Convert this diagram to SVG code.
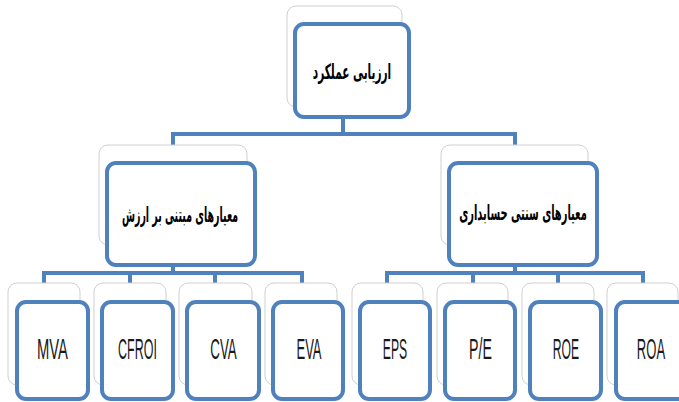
<svg xmlns="http://www.w3.org/2000/svg" width="679" height="402" viewBox="0 0 679 402">
<style>
.bg{fill:#fff;stroke:#cfcfcf;stroke-width:1}
.fr{fill:#fff;stroke:#4f81bd;stroke-width:4}
.ln{fill:none;stroke:#4f81bd;stroke-width:4;stroke-linejoin:miter}
.fa{font-family:"DejaVu Sans",sans-serif;font-weight:bold;font-size:21px;fill:#000;text-anchor:middle}
.en{font-family:"Liberation Sans",Arial,sans-serif;font-size:29px;fill:#1a1a1a;text-anchor:middle}
</style>
<rect width="679" height="402" fill="#fff"/>
<g id="connectors">
<path class="ln" d="M343,115 V134 M173,145 V134 H515 V145"/>
<path class="ln" d="M173,264 V273 M44,285 V273 H302 V285 M130,273 V285 M215,273 V285"/>
<path class="ln" d="M515,264 V273 M387,285 V273 H643 V285 M473,273 V285 M558,273 V285"/>
</g>
<g id="n-root">
<rect class="bg" x="287" y="6" width="115" height="101" rx="9"/>
<rect class="fr" x="295" y="24" width="114" height="93" rx="9"/>
<text class="fa" transform="translate(352,79) scale(0.5,1)">ارزیابی عملکرد</text>
</g>
<g id="n-value">
<rect class="bg" x="99" y="145" width="148" height="100" rx="9"/>
<rect class="fr" x="107" y="163" width="148" height="102" rx="9"/>
<text class="fa" transform="translate(180,222) scale(0.45,1)">معیارهای مبتنی بر ارزش</text>
</g>
<g id="n-acc">
<rect class="bg" x="441" y="145" width="147" height="100" rx="9"/>
<rect class="fr" x="449" y="163" width="148" height="102" rx="9"/>
<text class="fa" transform="translate(523,220) scale(0.47,1)">معیارهای سنتی حسابداری</text>
</g>
<g id="n-mva">
<rect class="bg" x="8" y="283" width="72" height="102" rx="9"/>
<rect class="fr" x="17" y="302" width="71" height="97" rx="9"/>
<text class="en" transform="translate(52.5,359) scale(0.51,1)">MVA</text>
</g>
<g id="n-cfroi">
<rect class="bg" x="94" y="283" width="72" height="102" rx="9"/>
<rect class="fr" x="102" y="302" width="71" height="97" rx="9"/>
<text class="en" transform="translate(137.5,359) scale(0.43,1)">CFROI</text>
</g>
<g id="n-cva">
<rect class="bg" x="179" y="283" width="73" height="102" rx="9"/>
<rect class="fr" x="187" y="302" width="72" height="97" rx="9"/>
<text class="en" transform="translate(223.5,359) scale(0.46,1)">CVA</text>
</g>
<g id="n-eva">
<rect class="bg" x="265" y="283" width="72" height="102" rx="9"/>
<rect class="fr" x="273" y="302" width="70" height="97" rx="9"/>
<text class="en" transform="translate(309,359) scale(0.45,1)">EVA</text>
</g>
<g id="n-eps">
<rect class="bg" x="352" y="283" width="71" height="102" rx="9"/>
<rect class="fr" x="360" y="302" width="70" height="97" rx="9"/>
<text class="en" transform="translate(395,359) scale(0.42,1)">EPS</text>
</g>
<g id="n-pe">
<rect class="bg" x="437" y="283" width="71" height="102" rx="9"/>
<rect class="fr" x="445" y="302" width="70" height="97" rx="9"/>
<text class="en" transform="translate(480.5,359) scale(0.49,1)">P/E</text>
</g>
<g id="n-roe">
<rect class="bg" x="522" y="283" width="72" height="102" rx="9"/>
<rect class="fr" x="530" y="302" width="71" height="97" rx="9"/>
<text class="en" transform="translate(566,359) scale(0.42,1)">ROE</text>
</g>
<g id="n-roa">
<rect class="bg" x="607" y="283" width="71" height="102" rx="9"/>
<rect class="fr" x="616" y="302" width="71" height="97" rx="9"/>
<text class="en" transform="translate(651,359) scale(0.45,1)">ROA</text>
</g>
</svg>
